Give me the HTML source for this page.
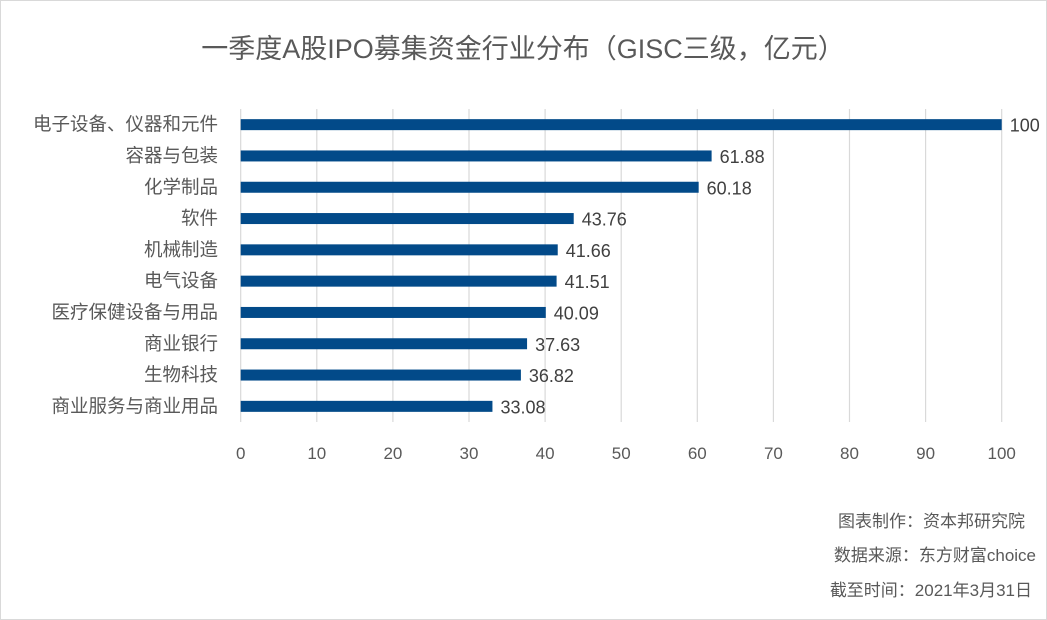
<!DOCTYPE html>
<html><head><meta charset="utf-8"><style>
body{margin:0;background:#fff;}
svg{display:block;font-family:"Liberation Sans","Noto Sans CJK SC",sans-serif;}
</style></head><body>
<svg width="1047" height="620">
<rect x="0.5" y="0.5" width="1046" height="619" fill="#fff" stroke="#d9d9d9"/>
<text x="523" y="58" text-anchor="middle" font-size="27" fill="#595959">一季度A股IPO募集资金行业分布（GISC三级，亿元）</text>
<g id="grid"></g><g id="bars"></g><g id="labels"></g>
<text x="1025" y="527" text-anchor="end" font-size="17" fill="#595959">图表制作：资本邦研究院</text>
<text x="1036" y="561" text-anchor="end" font-size="17" fill="#595959">数据来源：东方财富choice</text>
<text x="1032" y="596" text-anchor="end" font-size="17" fill="#595959">截至时间：2021年3月31日</text>
</svg>
<script>
const categories=["电子设备、仪器和元件","容器与包装","化学制品","软件","机械制造","电气设备","医疗保健设备与用品","商业银行","生物科技","商业服务与商业用品"];
const values=[100,61.88,60.18,43.76,41.66,41.51,40.09,37.63,36.82,33.08];
const valueLabels=["100","61.88","60.18","43.76","41.66","41.51","40.09","37.63","36.82","33.08"];
const ticks=[0,10,20,30,40,50,60,70,80,90,100];
const NS="http://www.w3.org/2000/svg";
const x0=240.7,x1=1001.7,plotTop=109,plotBot=422;
const xs=v=>x0+(v-0)/(100-0)*(x1-x0);
const band=(plotBot-plotTop)/categories.length;
const yc=i=>plotTop+band*(i+0.5);
function mk(t,a,p){const e=document.createElementNS(NS,t);for(const k in a)e.setAttribute(k,a[k]);document.getElementById(p).appendChild(e);return e;}
ticks.forEach(t=>{
 const l=mk('line',{x1:xs(t),x2:xs(t),y1:plotTop,y2:plotBot,stroke:'#d9d9d9','stroke-width':1.2},'grid');
 
 
 const tx=mk('text',{x:xs(t),y:459,'text-anchor':'middle','font-size':17,fill:'#595959'},'grid');
 tx.textContent=t;
 
 
});
categories.forEach((c,i)=>{
 const r=mk('rect',{x:xs(0),y:yc(i)-5.5,width:xs(values[i])-xs(0),height:11,fill:'#024a89'},'bars');
 
 
 const cl=mk('text',{x:218,y:yc(i)+6,'text-anchor':'end','font-size':18.5,fill:'#595959'},'labels');
 cl.textContent=c;
 
 
 const vl=mk('text',{x:xs(values[i])+8,y:yc(i)+7,'font-size':18,fill:'#404040'},'labels');
 vl.textContent=valueLabels[i];
 
 
});
</script>
</body></html>
